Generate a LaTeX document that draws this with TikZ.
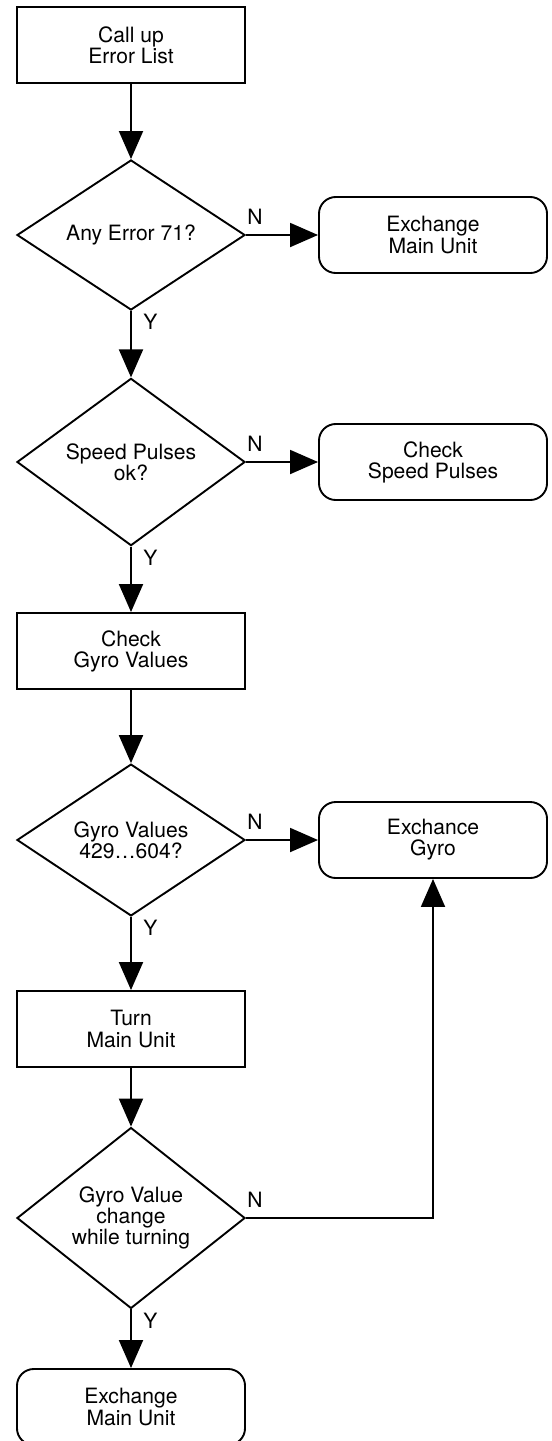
\documentclass[tikz,border=0pt]{standalone}
\usepackage{fontspec}
\setmainfont{TeX Gyre Heros}
\usetikzlibrary{shapes.geometric,arrows.meta}

\begin{document}
\begin{tikzpicture}[
    x=0.025cm, y=-0.025cm,
    font=\fontsize{15}{15}\selectfont,
    task/.style={draw, line width=1.35pt, minimum width=5.7cm, minimum height=1.9cm, align=center, inner sep=0pt},
    stop/.style={task, rounded corners=0.42cm},
    ask/.style={draw, diamond, line width=1.35pt, minimum width=5.7cm, minimum height=3.75cm, align=center, inner sep=0pt},
    flow/.style={line width=1.35pt, -{Triangle[length=0.7cm, width=0.6cm]}},
    yn/.style={inner sep=0pt}
]
\useasboundingbox (0,0) rectangle (552,1441);

% kroky
\node[task] (call) at (131,45) {Call up\\Error List};
\node[ask] (err) at (131,235) {Any Error 71?};
\node[stop] (xmain) at (433,235) {Exchange\\Main Unit};
\node[ask] (speed) at (131,462) {Speed Pulses\\ok?};
\node[stop] (chkspeed) at (433,462) {Check\\Speed Pulses};
\node[task] (chkgyro) at (131,651) {Check\\Gyro Values};
\node[ask] (range) at (131,840) {Gyro Values\\429…604?};
\node[stop] (xgyro) at (433,840) {Exchance\\Gyro};
\node[task] (turn) at (131,1029) {Turn\\Main Unit};
\node[ask] (change) at (131,1218) {Gyro Value\\change\\while turning};
\node[stop] (xmain2) at (131,1407) {Exchange\\Main Unit};

% prechody
\draw[flow] (call) -- (err);
\draw[flow] (err) -- (xmain);
\draw[flow] (err) -- (speed);
\draw[flow] (speed) -- (chkspeed);
\draw[flow] (speed) -- (chkgyro);
\draw[flow] (chkgyro) -- (range);
\draw[flow] (range) -- (xgyro);
\draw[flow] (range) -- (turn);
\draw[flow] (turn) -- (change);
\draw[flow] (change.east) -| (xgyro.south);
\draw[flow] (change) -- (xmain2);

% vetvy
\node[yn, anchor=south west] (n1) at ([shift={(1,-10)}]err.east) {N};
\node[yn, anchor=south west] (n2) at ([shift={(1,-10)}]speed.east) {N};
\node[yn, anchor=south west] (n3) at ([shift={(1,-10)}]range.east) {N};
\node[yn, anchor=south west] (n4) at ([shift={(1,-10)}]change.east) {N};
\node[yn, anchor=north west] (y1) at ([shift={(12,3)}]err.south) {Y};
\node[yn, anchor=north west] (y2) at ([shift={(12,3)}]speed.south) {Y};
\node[yn, anchor=north west] (y3) at ([shift={(12,3)}]range.south) {Y};
\node[yn, anchor=north west] (y4) at ([shift={(12,3)}]change.south) {Y};

\end{tikzpicture}
\end{document}
